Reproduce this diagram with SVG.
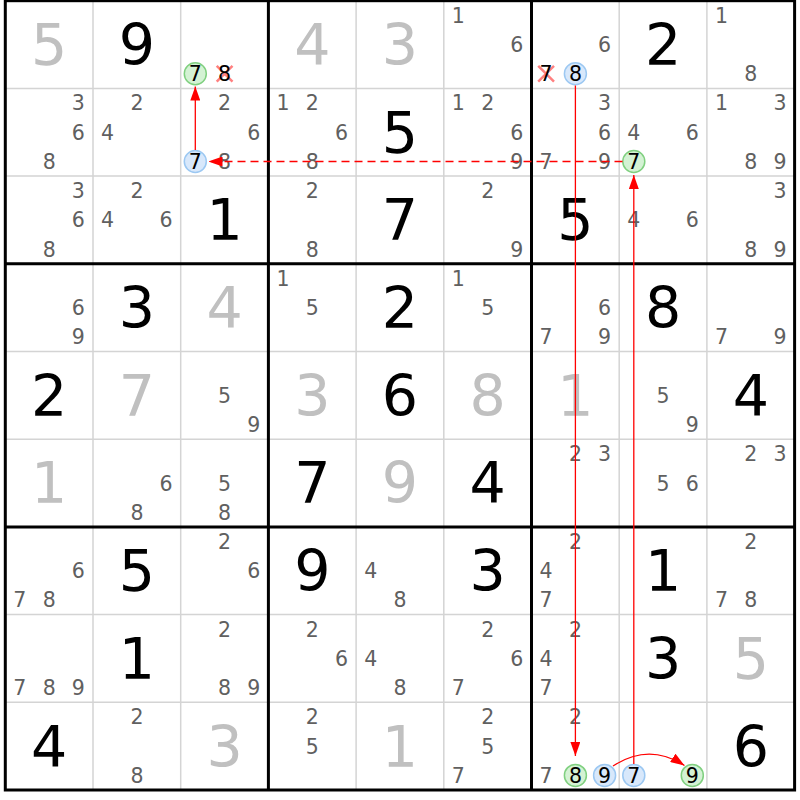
<svg xmlns="http://www.w3.org/2000/svg" width="800" height="800" viewBox="0 0 800 800">
<style>
.thin{stroke:#d4d4d4;stroke-width:1.5}
.thick{stroke:#000;stroke-width:3;fill:none}
.b{font-family:"DejaVu Sans",sans-serif;font-size:57px;text-anchor:middle}
.g{fill:#c0c0c0}
.s{fill:#000}
.c{font-family:"DejaVu Sans",sans-serif;font-size:20.5px;fill:#606060;text-anchor:middle}
.m{fill:#000}
.on{fill:#d4f2d4;stroke:#80d080;stroke-width:1.5}
.off{fill:#d8e8fb;stroke:#9cc8f2;stroke-width:1.5}
.x{stroke:#ff8080;stroke-width:2.5}
.link{stroke:#f00;stroke-width:1.3;fill:none;marker-end:url(#ah)}
.weak{stroke-dasharray:8 5}
</style>
<defs>
<marker id="ah" markerWidth="14" markerHeight="10" refX="14" refY="5" orient="auto" markerUnits="userSpaceOnUse"><path d="M0,0L14,5L0,10z" fill="#f00"/></marker>
</defs>
<rect width="800" height="800" fill="#fff"/>
<g id="grid">
<path class="thin" d="M93,0.7V790M180.7,0.7V790M356.1,0.7V790M443.8,0.7V790M619.2,0.7V790M706.9,0.7V790M5.3,88.4H794.6M5.3,176.1H794.6M5.3,351.5H794.6M5.3,439.2H794.6M5.3,614.6H794.6M5.3,702.3H794.6"/>
<path class="thick" d="M268.4,0.7V790M531.5,0.7V790M5.3,263.8H794.6M5.3,526.9H794.6"/>
<rect class="thick" x="5.3" y="0.7" width="789.3" height="789.3"/>
</g>
<g id="cells">
<g id="r0c0" transform="translate(5.3,0.7)"><text class="b g" x="43.9" y="64.3">5</text></g>
<g id="r0c1" transform="translate(93,0.7)"><text class="b s" x="43.9" y="64.3">9</text></g>
<g id="r0c2" transform="translate(180.7,0.7)"><circle class="on" cx="14.6" cy="73.1" r="11"/><text class="c m" x="14.6" y="80.6">7</text><path class="x" d="M36,65.2L51.8,81M51.8,65.2L36,81"/><text class="c m" x="43.9" y="80.6">8</text></g>
<g id="r0c3" transform="translate(268.4,0.7)"><text class="b g" x="43.9" y="64.3">4</text></g>
<g id="r0c4" transform="translate(356.1,0.7)"><text class="b g" x="43.9" y="64.3">3</text></g>
<g id="r0c5" transform="translate(443.8,0.7)"><text class="c" x="14.6" y="22.1">1</text><text class="c" x="73.1" y="51.4">6</text></g>
<g id="r0c6" transform="translate(531.5,0.7)"><text class="c" x="73.1" y="51.4">6</text><path class="x" d="M6.7,65.2L22.5,81M22.5,65.2L6.7,81"/><text class="c m" x="14.6" y="80.6">7</text><circle class="off" cx="43.9" cy="73.1" r="11"/><text class="c m" x="43.9" y="80.6">8</text></g>
<g id="r0c7" transform="translate(619.2,0.7)"><text class="b s" x="43.9" y="64.3">2</text></g>
<g id="r0c8" transform="translate(706.9,0.7)"><text class="c" x="14.6" y="22.1">1</text><text class="c" x="43.9" y="80.6">8</text></g>

<g id="r1c0" transform="translate(5.3,88.4)"><text class="c" x="73.1" y="22.1">3</text><text class="c" x="73.1" y="51.4">6</text><text class="c" x="43.9" y="80.6">8</text></g>
<g id="r1c1" transform="translate(93,88.4)"><text class="c" x="43.9" y="22.1">2</text><text class="c" x="14.6" y="51.4">4</text></g>
<g id="r1c2" transform="translate(180.7,88.4)"><text class="c" x="43.9" y="22.1">2</text><text class="c" x="73.1" y="51.4">6</text><circle class="off" cx="14.6" cy="73.1" r="11"/><text class="c m" x="14.6" y="80.6">7</text><text class="c" x="43.9" y="80.6">8</text></g>
<g id="r1c3" transform="translate(268.4,88.4)"><text class="c" x="14.6" y="22.1">1</text><text class="c" x="43.9" y="22.1">2</text><text class="c" x="73.1" y="51.4">6</text><text class="c" x="43.9" y="80.6">8</text></g>
<g id="r1c4" transform="translate(356.1,88.4)"><text class="b s" x="43.9" y="64.3">5</text></g>
<g id="r1c5" transform="translate(443.8,88.4)"><text class="c" x="14.6" y="22.1">1</text><text class="c" x="43.9" y="22.1">2</text><text class="c" x="73.1" y="51.4">6</text><text class="c" x="73.1" y="80.6">9</text></g>
<g id="r1c6" transform="translate(531.5,88.4)"><text class="c" x="73.1" y="22.1">3</text><text class="c" x="73.1" y="51.4">6</text><text class="c" x="14.6" y="80.6">7</text><text class="c" x="73.1" y="80.6">9</text></g>
<g id="r1c7" transform="translate(619.2,88.4)"><text class="c" x="14.6" y="51.4">4</text><text class="c" x="73.1" y="51.4">6</text><circle class="on" cx="14.6" cy="73.1" r="11"/><text class="c m" x="14.6" y="80.6">7</text></g>
<g id="r1c8" transform="translate(706.9,88.4)"><text class="c" x="14.6" y="22.1">1</text><text class="c" x="73.1" y="22.1">3</text><text class="c" x="43.9" y="80.6">8</text><text class="c" x="73.1" y="80.6">9</text></g>

<g id="r2c0" transform="translate(5.3,176.1)"><text class="c" x="73.1" y="22.1">3</text><text class="c" x="73.1" y="51.4">6</text><text class="c" x="43.9" y="80.6">8</text></g>
<g id="r2c1" transform="translate(93,176.1)"><text class="c" x="43.9" y="22.1">2</text><text class="c" x="14.6" y="51.4">4</text><text class="c" x="73.1" y="51.4">6</text></g>
<g id="r2c2" transform="translate(180.7,176.1)"><text class="b s" x="43.9" y="64.3">1</text></g>
<g id="r2c3" transform="translate(268.4,176.1)"><text class="c" x="43.9" y="22.1">2</text><text class="c" x="43.9" y="80.6">8</text></g>
<g id="r2c4" transform="translate(356.1,176.1)"><text class="b s" x="43.9" y="64.3">7</text></g>
<g id="r2c5" transform="translate(443.8,176.1)"><text class="c" x="43.9" y="22.1">2</text><text class="c" x="73.1" y="80.6">9</text></g>
<g id="r2c6" transform="translate(531.5,176.1)"><text class="b s" x="43.9" y="64.3">5</text></g>
<g id="r2c7" transform="translate(619.2,176.1)"><text class="c" x="14.6" y="51.4">4</text><text class="c" x="73.1" y="51.4">6</text></g>
<g id="r2c8" transform="translate(706.9,176.1)"><text class="c" x="73.1" y="22.1">3</text><text class="c" x="43.9" y="80.6">8</text><text class="c" x="73.1" y="80.6">9</text></g>

<g id="r3c0" transform="translate(5.3,263.8)"><text class="c" x="73.1" y="51.4">6</text><text class="c" x="73.1" y="80.6">9</text></g>
<g id="r3c1" transform="translate(93,263.8)"><text class="b s" x="43.9" y="64.3">3</text></g>
<g id="r3c2" transform="translate(180.7,263.8)"><text class="b g" x="43.9" y="64.3">4</text></g>
<g id="r3c3" transform="translate(268.4,263.8)"><text class="c" x="14.6" y="22.1">1</text><text class="c" x="43.9" y="51.4">5</text></g>
<g id="r3c4" transform="translate(356.1,263.8)"><text class="b s" x="43.9" y="64.3">2</text></g>
<g id="r3c5" transform="translate(443.8,263.8)"><text class="c" x="14.6" y="22.1">1</text><text class="c" x="43.9" y="51.4">5</text></g>
<g id="r3c6" transform="translate(531.5,263.8)"><text class="c" x="73.1" y="51.4">6</text><text class="c" x="14.6" y="80.6">7</text><text class="c" x="73.1" y="80.6">9</text></g>
<g id="r3c7" transform="translate(619.2,263.8)"><text class="b s" x="43.9" y="64.3">8</text></g>
<g id="r3c8" transform="translate(706.9,263.8)"><text class="c" x="14.6" y="80.6">7</text><text class="c" x="73.1" y="80.6">9</text></g>

<g id="r4c0" transform="translate(5.3,351.5)"><text class="b s" x="43.9" y="64.3">2</text></g>
<g id="r4c1" transform="translate(93,351.5)"><text class="b g" x="43.9" y="64.3">7</text></g>
<g id="r4c2" transform="translate(180.7,351.5)"><text class="c" x="43.9" y="51.4">5</text><text class="c" x="73.1" y="80.6">9</text></g>
<g id="r4c3" transform="translate(268.4,351.5)"><text class="b g" x="43.9" y="64.3">3</text></g>
<g id="r4c4" transform="translate(356.1,351.5)"><text class="b s" x="43.9" y="64.3">6</text></g>
<g id="r4c5" transform="translate(443.8,351.5)"><text class="b g" x="43.9" y="64.3">8</text></g>
<g id="r4c6" transform="translate(531.5,351.5)"><text class="b g" x="43.9" y="64.3">1</text></g>
<g id="r4c7" transform="translate(619.2,351.5)"><text class="c" x="43.9" y="51.4">5</text><text class="c" x="73.1" y="80.6">9</text></g>
<g id="r4c8" transform="translate(706.9,351.5)"><text class="b s" x="43.9" y="64.3">4</text></g>

<g id="r5c0" transform="translate(5.3,439.2)"><text class="b g" x="43.9" y="64.3">1</text></g>
<g id="r5c1" transform="translate(93,439.2)"><text class="c" x="73.1" y="51.4">6</text><text class="c" x="43.9" y="80.6">8</text></g>
<g id="r5c2" transform="translate(180.7,439.2)"><text class="c" x="43.9" y="51.4">5</text><text class="c" x="43.9" y="80.6">8</text></g>
<g id="r5c3" transform="translate(268.4,439.2)"><text class="b s" x="43.9" y="64.3">7</text></g>
<g id="r5c4" transform="translate(356.1,439.2)"><text class="b g" x="43.9" y="64.3">9</text></g>
<g id="r5c5" transform="translate(443.8,439.2)"><text class="b s" x="43.9" y="64.3">4</text></g>
<g id="r5c6" transform="translate(531.5,439.2)"><text class="c" x="43.9" y="22.1">2</text><text class="c" x="73.1" y="22.1">3</text></g>
<g id="r5c7" transform="translate(619.2,439.2)"><text class="c" x="43.9" y="51.4">5</text><text class="c" x="73.1" y="51.4">6</text></g>
<g id="r5c8" transform="translate(706.9,439.2)"><text class="c" x="43.9" y="22.1">2</text><text class="c" x="73.1" y="22.1">3</text></g>

<g id="r6c0" transform="translate(5.3,526.9)"><text class="c" x="73.1" y="51.4">6</text><text class="c" x="14.6" y="80.6">7</text><text class="c" x="43.9" y="80.6">8</text></g>
<g id="r6c1" transform="translate(93,526.9)"><text class="b s" x="43.9" y="64.3">5</text></g>
<g id="r6c2" transform="translate(180.7,526.9)"><text class="c" x="43.9" y="22.1">2</text><text class="c" x="73.1" y="51.4">6</text></g>
<g id="r6c3" transform="translate(268.4,526.9)"><text class="b s" x="43.9" y="64.3">9</text></g>
<g id="r6c4" transform="translate(356.1,526.9)"><text class="c" x="14.6" y="51.4">4</text><text class="c" x="43.9" y="80.6">8</text></g>
<g id="r6c5" transform="translate(443.8,526.9)"><text class="b s" x="43.9" y="64.3">3</text></g>
<g id="r6c6" transform="translate(531.5,526.9)"><text class="c" x="43.9" y="22.1">2</text><text class="c" x="14.6" y="51.4">4</text><text class="c" x="14.6" y="80.6">7</text></g>
<g id="r6c7" transform="translate(619.2,526.9)"><text class="b s" x="43.9" y="64.3">1</text></g>
<g id="r6c8" transform="translate(706.9,526.9)"><text class="c" x="43.9" y="22.1">2</text><text class="c" x="14.6" y="80.6">7</text><text class="c" x="43.9" y="80.6">8</text></g>

<g id="r7c0" transform="translate(5.3,614.6)"><text class="c" x="14.6" y="80.6">7</text><text class="c" x="43.9" y="80.6">8</text><text class="c" x="73.1" y="80.6">9</text></g>
<g id="r7c1" transform="translate(93,614.6)"><text class="b s" x="43.9" y="64.3">1</text></g>
<g id="r7c2" transform="translate(180.7,614.6)"><text class="c" x="43.9" y="22.1">2</text><text class="c" x="43.9" y="80.6">8</text><text class="c" x="73.1" y="80.6">9</text></g>
<g id="r7c3" transform="translate(268.4,614.6)"><text class="c" x="43.9" y="22.1">2</text><text class="c" x="73.1" y="51.4">6</text></g>
<g id="r7c4" transform="translate(356.1,614.6)"><text class="c" x="14.6" y="51.4">4</text><text class="c" x="43.9" y="80.6">8</text></g>
<g id="r7c5" transform="translate(443.8,614.6)"><text class="c" x="43.9" y="22.1">2</text><text class="c" x="73.1" y="51.4">6</text><text class="c" x="14.6" y="80.6">7</text></g>
<g id="r7c6" transform="translate(531.5,614.6)"><text class="c" x="43.9" y="22.1">2</text><text class="c" x="14.6" y="51.4">4</text><text class="c" x="14.6" y="80.6">7</text></g>
<g id="r7c7" transform="translate(619.2,614.6)"><text class="b s" x="43.9" y="64.3">3</text></g>
<g id="r7c8" transform="translate(706.9,614.6)"><text class="b g" x="43.9" y="64.3">5</text></g>

<g id="r8c0" transform="translate(5.3,702.3)"><text class="b s" x="43.9" y="64.3">4</text></g>
<g id="r8c1" transform="translate(93,702.3)"><text class="c" x="43.9" y="22.1">2</text><text class="c" x="43.9" y="80.6">8</text></g>
<g id="r8c2" transform="translate(180.7,702.3)"><text class="b g" x="43.9" y="64.3">3</text></g>
<g id="r8c3" transform="translate(268.4,702.3)"><text class="c" x="43.9" y="22.1">2</text><text class="c" x="43.9" y="51.4">5</text></g>
<g id="r8c4" transform="translate(356.1,702.3)"><text class="b g" x="43.9" y="64.3">1</text></g>
<g id="r8c5" transform="translate(443.8,702.3)"><text class="c" x="43.9" y="22.1">2</text><text class="c" x="43.9" y="51.4">5</text><text class="c" x="14.6" y="80.6">7</text></g>
<g id="r8c6" transform="translate(531.5,702.3)"><text class="c" x="43.9" y="22.1">2</text><text class="c" x="14.6" y="80.6">7</text><circle class="on" cx="43.9" cy="73.1" r="11"/><text class="c m" x="43.9" y="80.6">8</text><circle class="off" cx="73.1" cy="73.1" r="11"/><text class="c m" x="73.1" y="80.6">9</text></g>
<g id="r8c7" transform="translate(619.2,702.3)"><circle class="off" cx="14.6" cy="73.1" r="11"/><text class="c m" x="14.6" y="80.6">7</text><circle class="on" cx="73.1" cy="73.1" r="11"/><text class="c m" x="73.1" y="80.6">9</text></g>
<g id="r8c8" transform="translate(706.9,702.3)"><text class="b s" x="43.9" y="64.3">6</text></g>
</g>
<g id="connectors">
<path class="link" d="M195.3,150L195.3,86.5"/>
<path class="link weak" d="M622.5,161.5L208.5,161.5"/>
<path class="link" d="M575.4,85.5L575.4,756"/>
<path class="link" d="M613,766Q649,742.5 684.5,765.5"/>
<path class="link" d="M633.8,764L633.8,175"/>
</g>
</svg>
